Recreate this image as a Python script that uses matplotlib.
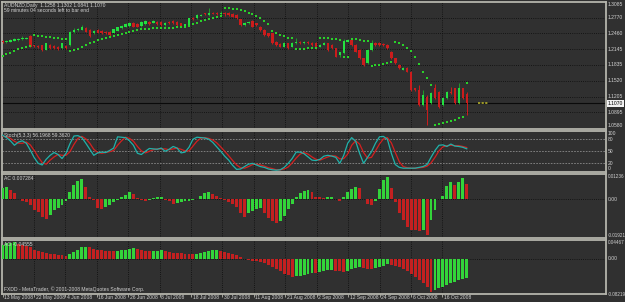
import matplotlib
matplotlib.use("Agg")
import matplotlib.pyplot as plt
import numpy as np

# ---------------- data ----------------
opens = [
 1.2310,1.2290,1.2290,1.2310,1.2325,1.2345,1.2355,1.2405,1.2225,1.2215,
 1.2230,1.2135,1.2230,1.2210,1.2195,1.2165,1.2210,1.2230,1.2480,1.2525,
 1.2530,1.2565,1.2528,1.2462,1.2528,1.2515,1.2495,1.2495,1.2475,1.2515,
 1.2561,1.2595,1.2608,1.2674,1.2648,1.2608,1.2648,1.2694,1.2674,1.2694,
 1.2680,1.2628,1.2694,1.2714,1.2694,1.2661,1.2608,1.2615,1.2770,1.2760,
 1.2810,1.2860,1.2827,1.2873,1.2870,1.2840,1.2873,1.2870,1.2853,1.2827,
 1.2740,1.2628,1.2661,1.2714,1.2661,1.2595,1.2528,1.2462,1.2462,1.2296,
 1.2250,1.2197,1.2263,1.2197,1.2263,1.2296,1.2263,1.2290,1.2263,1.2263,
 1.2197,1.2240,1.2263,1.2230,1.2164,1.2031,1.2065,1.2296,1.2330,1.2230,
 1.2131,1.1965,1.1866,1.2131,1.2263,1.2263,1.2250,1.2230,1.2100,1.1965,
 1.1833,1.1740,1.1767,1.1700,1.1369,1.1336,1.1037,1.1203,1.1070,1.1369,
 1.1302,1.1037,1.1170,1.1302,1.1369,1.1070,1.1369,1.1258]
closes = [
 1.2290,1.2305,1.2320,1.2340,1.2355,1.2375,1.2365,1.2200,1.2210,1.2185,
 1.2135,1.2260,1.2165,1.2165,1.2150,1.2260,1.2165,1.2495,1.2535,1.2545,
 1.2595,1.2495,1.2409,1.2515,1.2475,1.2462,1.2462,1.2429,1.2541,1.2581,
 1.2608,1.2648,1.2674,1.2595,1.2595,1.2694,1.2714,1.2648,1.2714,1.2640,
 1.2628,1.2670,1.2661,1.2661,1.2628,1.2608,1.2640,1.2760,1.2745,1.2827,
 1.2835,1.2845,1.2873,1.2853,1.2840,1.2873,1.2840,1.2827,1.2793,1.2760,
 1.2628,1.2661,1.2694,1.2595,1.2628,1.2528,1.2429,1.2409,1.2263,1.2230,
 1.2197,1.2263,1.2164,1.2263,1.2296,1.2263,1.2296,1.2263,1.2230,1.2164,
 1.2240,1.2270,1.2131,1.2164,1.1998,1.2081,1.2313,1.2330,1.2230,1.2098,
 1.1965,1.1833,1.2131,1.2263,1.2230,1.2230,1.2230,1.2164,1.1965,1.1866,
 1.1767,1.1767,1.1700,1.1336,1.1336,1.1037,1.1236,1.0938,1.1269,1.1170,
 1.1004,1.1170,1.1302,1.1269,1.1070,1.1369,1.1170,1.1070]
highs = [
 1.2330,1.2325,1.2340,1.2360,1.2370,1.2410,1.2385,1.2425,1.2240,1.2230,
 1.2240,1.2270,1.2245,1.2225,1.2210,1.2275,1.2225,1.2510,1.2560,1.2575,
 1.2630,1.2580,1.2540,1.2530,1.2545,1.2530,1.2510,1.2505,1.2555,1.2595,
 1.2625,1.2665,1.2690,1.2690,1.2660,1.2710,1.2730,1.2710,1.2730,1.2710,
 1.2700,1.2690,1.2710,1.2730,1.2705,1.2675,1.2655,1.2775,1.2785,1.2840,
 1.2850,1.2875,1.2960,1.2890,1.2885,1.2900,1.2890,1.2885,1.2865,1.2840,
 1.2750,1.2680,1.2710,1.2730,1.2675,1.2610,1.2540,1.2475,1.2475,1.2310,
 1.2265,1.2280,1.2275,1.2280,1.2370,1.2310,1.2310,1.2305,1.2280,1.2280,
 1.2255,1.2290,1.2275,1.2245,1.2180,1.2100,1.2345,1.2345,1.2340,1.2245,
 1.2145,1.1980,1.2145,1.2320,1.2280,1.2280,1.2265,1.2245,1.2115,1.1980,
 1.1850,1.1785,1.1785,1.1715,1.1385,1.1435,1.1340,1.1230,1.1300,1.1460,
 1.1320,1.1190,1.1320,1.1402,1.1385,1.1468,1.1385,1.1302]
lows = [
 1.2270,1.2275,1.2280,1.2300,1.2315,1.2335,1.2345,1.2185,1.2195,1.2170,
 1.2120,1.2125,1.2150,1.2150,1.2135,1.2150,1.2150,1.2220,1.2465,1.2510,
 1.2520,1.2480,1.2395,1.2450,1.2460,1.2450,1.2445,1.2415,1.2460,1.2500,
 1.2545,1.2580,1.2595,1.2580,1.2580,1.2595,1.2635,1.2635,1.2660,1.2625,
 1.2615,1.2615,1.2645,1.2645,1.2615,1.2595,1.2595,1.2600,1.2730,1.2745,
 1.2800,1.2830,1.2815,1.2840,1.2825,1.2830,1.2810,1.2815,1.2780,1.2745,
 1.2615,1.2615,1.2645,1.2580,1.2615,1.2515,1.2415,1.2395,1.2250,1.2215,
 1.2185,1.2185,1.2150,1.2185,1.2250,1.2250,1.2250,1.2250,1.2215,1.2150,
 1.2185,1.2225,1.2120,1.2150,1.1985,1.1998,1.2050,1.2285,1.2215,1.2085,
 1.1950,1.1820,1.1850,1.2120,1.2215,1.2215,1.2215,1.2150,1.1950,1.1850,
 1.1750,1.1725,1.1685,1.1320,1.1320,1.1020,1.1020,1.0640,1.1050,1.1150,
 1.0985,1.1020,1.1150,1.1250,1.1055,1.1055,1.1150,1.0841]
sar = [
 1.2010,1.2045,1.2080,1.2115,1.2145,1.2170,1.2195,1.2215,1.2425,1.2415,
 1.2405,1.2395,1.2385,1.2375,1.2365,1.2355,1.2345,1.2120,1.2135,1.2160,
 1.2190,1.2225,1.2260,1.2290,1.2320,1.2345,1.2370,1.2390,1.2410,1.2425,
 1.2445,1.2465,1.2490,1.2515,1.2530,1.2540,1.2550,1.2555,1.2560,1.2565,
 1.2568,1.2570,1.2573,1.2576,1.2579,1.2582,1.2590,1.2600,1.2640,1.2670,
 1.2710,1.2730,1.2750,1.2770,1.2790,1.2810,1.2960,1.2958,1.2955,1.2945,
 1.2930,1.2900,1.2870,1.2840,1.2805,1.2770,1.2700,1.2640,1.2500,1.2470,
 1.2430,1.2400,1.2375,1.2360,1.2150,1.2155,1.2160,1.2165,1.2170,1.2175,
 1.2376,1.2370,1.2362,1.2355,1.2345,1.2332,1.1985,1.2000,1.2345,1.2340,
 1.2330,1.2315,1.2310,1.1820,1.1830,1.1840,1.1855,1.1870,1.1885,1.2296,
 1.2270,1.2230,1.2180,1.2110,1.2000,1.1850,1.1700,1.1570,1.1435,1.0640,
 1.0660,1.0675,1.0695,1.0720,1.0745,1.0775,1.0805,1.1468]
stoch_main = [
 90,84,76,65,73,76,70,53,34,20,
 16,30,40,47,42,32,45,69,88,89,
 84,70,55,40,46,48,47,52,58,86,
 85,84,76,65,45,42,50,57,56,55,
 58,50,55,62,58,46,48,60,80,85,
 84,83,80,72,61,50,38,28,15,5,
 6,12,18,20,16,12,10,6,4,3,
 4,10,20,32,48,48,44,36,28,27,
 30,38,40,38,35,20,40,70,84,75,
 45,20,35,49,70,86,87,80,45,17,
 10,8,8,8,8,10,12,17,35,52,
 65,66,62,68,63,62,60,56.2]
stoch_signal = [
 88,86,82,75,70,70,73,66,52,36,
 22,18,28,36,42,40,40,49,67,82,
 87,81,70,55,47,45,47,49,52,65,
 76,85,82,75,62,51,46,50,54,56,
 56,56,54,56,58,55,51,51,63,75,
 83,84,82,78,71,61,50,39,27,16,
 9,8,12,17,18,16,13,9,7,4,
 4,6,11,21,33,43,47,43,36,30,
 28,32,36,39,38,31,32,43,65,76,
 68,47,33,35,51,68,81,84,71,47,
 24,12,9,8,8,9,10,13,21,35,
 51,61,64,65,64,64,62,59.4]
ac = [
 0.0053,0.0058,0.0045,0.0028,-0.0002,-0.0008,-0.0015,-0.0030,-0.0054,-0.0065,
 -0.0087,-0.0098,-0.0078,-0.0054,-0.0042,-0.0030,-0.0010,0.0034,0.0070,0.0091,
 0.0098,0.0061,0.0009,-0.0007,-0.0045,-0.0050,-0.0037,-0.0027,-0.0015,-0.0005,
 0.0008,0.0020,0.0034,0.0025,0.0004,-0.0003,-0.0010,-0.0003,0.0004,0.0008,
 0.0012,-0.0003,-0.0012,-0.0024,-0.0020,-0.0015,-0.0012,-0.0009,-0.0006,-0.0002,
 0.0015,0.0032,0.0037,0.0025,0.0015,0.0003,-0.0005,-0.0015,-0.0025,-0.0040,
 -0.0067,-0.0087,-0.0071,-0.0057,-0.0051,-0.0046,-0.0071,-0.0095,-0.0107,-0.0120,
 -0.0107,-0.0084,-0.0051,-0.0024,0.0012,0.0032,0.0041,0.0044,0.0036,0.0012,
 0.0008,0.0003,0.0008,0.0012,0.0000,-0.0008,0.0008,0.0036,0.0048,0.0058,
 0.0053,0.0002,-0.0025,-0.0030,-0.0008,0.0048,0.0094,0.0110,0.0053,-0.0013,
 -0.0071,-0.0104,-0.0136,-0.0153,-0.0155,-0.0160,-0.0153,-0.0177,-0.0104,-0.0054,
 0.0000,0.0015,0.0065,0.0086,0.0070,0.0086,0.0103,0.0073]
ao = [
 0.0324,0.0366,0.0380,0.0405,0.0349,0.0324,0.0300,0.0270,0.0220,0.0187,
 0.0160,0.0138,0.0120,0.0110,0.0098,0.0085,0.0075,0.0110,0.0160,0.0220,
 0.0270,0.0290,0.0270,0.0245,0.0220,0.0200,0.0190,0.0185,0.0180,0.0187,
 0.0200,0.0220,0.0245,0.0250,0.0235,0.0210,0.0195,0.0185,0.0190,0.0195,
 0.0200,0.0190,0.0165,0.0150,0.0140,0.0128,0.0120,0.0110,0.0105,0.0120,
 0.0138,0.0155,0.0180,0.0200,0.0210,0.0190,0.0165,0.0140,0.0110,0.0080,
 0.0040,0.0000,-0.0024,-0.0040,-0.0057,-0.0080,-0.0106,-0.0140,-0.0190,-0.0244,
 -0.0300,-0.0350,-0.0380,-0.0430,-0.0415,-0.0400,-0.0380,-0.0350,-0.0325,-0.0340,
 -0.0310,-0.0290,-0.0270,-0.0260,-0.0280,-0.0300,-0.0310,-0.0280,-0.0250,-0.0220,
 -0.0200,-0.0210,-0.0230,-0.0250,-0.0215,-0.0190,-0.0160,-0.0130,-0.0140,-0.0165,
 -0.0200,-0.0240,-0.0290,-0.0350,-0.0420,-0.0500,-0.0580,-0.0670,-0.0780,-0.0750,
 -0.0700,-0.0660,-0.0620,-0.0580,-0.0545,-0.0510,-0.0480,-0.0456]

date_labels = ["13 May 2008", "22 May 2008", "4 Jun 2008", "16 Jun 2008", "26 Jun 2008",
               "8 Jul 2008", "18 Jul 2008", "30 Jul 2008", "11 Aug 2008", "21 Aug 2008",
               "2 Sep 2008", "12 Sep 2008", "24 Sep 2008", "6 Oct 2008", "16 Oct 2008"]
price_levels = [1.3085, 1.2770, 1.2460, 1.2145, 1.1835, 1.1520, 1.1205, 1.0895, 1.0580]
price_labels = ["1.3085", "1.2770", "1.2460", "1.2145", "1.1835", "1.1520", "1.1205", "1.0895", "1.0580"]
last_price = 1.1070
stoch_levels = [80, 50, 20]
stoch_labels = [(100, "100"), (80, "80"), (50, "50"), (20, "20"), (0, "0")]
ac_range = (-0.01921, 0.01236)
ao_range = (-0.08219, 0.04467)

header_main = "AUDNZD,Daily  1.1258 1.1302 1.0841 1.1070"
header_timer = "59 minutes 04 seconds left to bar end"
header_stoch = "Stoch(5,3,3) 56.1968 59.3620"
header_ac = "AC 0.007284"
header_ao = "AO -0.04555"
footer = "FXDD - MetaTrader, \u00a9 2001-2008 MetaQuotes Software Corp."

# ---------------- style ----------------
BG = "#303030"
GRID = "#0c0c0c"
SPINE = "#b4b4ac"
TXT = "#d2d2d2"
BULL = "#22e040"
BULL_WICK = "#1f9a2a"
BEAR = "#cc1c1c"
HG = "#33d43a"
HR = "#c42020"
FONT = ["Liberation Sans", "DejaVu Sans"]
FS = 3.6
FS_SMALL = 3.3

W, H = 625, 302
fig = plt.figure(figsize=(W / 100, H / 100), dpi=100)
fig.patch.set_facecolor(BG)

L, R = 2, 606
def make_ax(top, bottom):
    ax = fig.add_axes([L / W, 1 - bottom / H, (R - L) / W, (bottom - top) / H])
    ax.set_facecolor(BG)
    for s in ax.spines.values():
        s.set_color(SPINE)
        s.set_linewidth(1.3)
    ax.tick_params(left=False, right=False, bottom=False, top=False,
                   labelleft=False, labelbottom=False)
    ax.set_xlim(-0.13, 152.1)
    return ax

idx = np.arange(len(closes))
tick_pos = np.arange(len(date_labels)) * 7.92
grid_kw = dict(color=GRID, linestyle=(0, (1, 1.6)), linewidth=0.6, zorder=0.5)

def vgrid(ax):
    for t in tick_pos[1:]:
        ax.axvline(t, **grid_kw)

def rlabel(ax, y, s, va="center", fs=FS):
    ax.text(1.003, y, s, transform=ax.get_yaxis_transform(), ha="left", va=va,
            fontsize=fs, color=TXT, family=FONT, clip_on=False)

# ---- main price panel ----
ax = make_ax(2, 129)
ax.set_ylim(1.0560, 1.3085)
for lv in price_levels[1:-1]:
    ax.axhline(lv, **grid_kw)
vgrid(ax)
o = np.array(opens); c = np.array(closes)
up = c >= o
ax.vlines(idx[up], np.array(lows)[up], np.array(highs)[up], color=BULL_WICK, lw=0.7, zorder=2)
ax.vlines(idx[~up], np.array(lows)[~up], np.array(highs)[~up], color=BEAR, lw=0.7, zorder=2)
ax.bar(idx, np.maximum(np.abs(c - o), 0.0004), bottom=np.minimum(o, c), width=0.62,
       color=np.where(up, BULL, BEAR), zorder=3, linewidth=0)
ax.scatter(idx, sar, s=0.6, marker="s", color="#2ad02a", linewidths=0, zorder=4)
ax.axhline(last_price, color="#0a0a0a", lw=0.8, zorder=1.5)
ax.plot([119.9, 122.4], [last_price, last_price], color="#a8a428", lw=1.3,
        linestyle=(0, (1.2, 0.8)), zorder=4)
for lv, lb in zip(price_levels, price_labels):
    va = "top" if lv == price_levels[0] else ("bottom" if lv == price_levels[-1] else "center")
    rlabel(ax, lv, lb, va=va)
ax.text(1.003, last_price, "1.1070", transform=ax.get_yaxis_transform(), ha="left", va="center",
        fontsize=FS, color="#000000", family=FONT, clip_on=False,
        bbox=dict(boxstyle="square,pad=0.15", facecolor="#f2f2f2", edgecolor="none"))
ax.text(0.004, 0.976, header_main, transform=ax.transAxes, ha="left", va="center",
        fontsize=FS, color=TXT, family=FONT)
ax.text(0.004, 0.935, header_timer, transform=ax.transAxes, ha="left", va="center",
        fontsize=FS, color=TXT, family=FONT)

# ---- stochastic panel ----
ax2 = make_ax(131, 172)
ax2.set_ylim(-1.5, 100.5)
vgrid(ax2)
for lv in stoch_levels:
    ax2.axhline(lv, color="#8a8a8a", linestyle=(0, (2, 1.5)), lw=0.6, zorder=0.8)
ax2.plot(idx, stoch_signal, color="#d42020", lw=0.9, zorder=3)
ax2.plot(idx, stoch_main, color="#20b2aa", lw=0.9, zorder=4)
for v, lb in stoch_labels:
    va = "top" if v == 100 else ("bottom" if v == 0 else "center")
    rlabel(ax2, v, lb, va=va)
ax2.text(0.004, 0.90, header_stoch, transform=ax2.transAxes, ha="left", va="center",
         fontsize=FS, color=TXT, family=FONT)

# ---- AC panel ----
ax3 = make_ax(174, 238)
ax3.set_ylim(*ac_range)
vgrid(ax3)
ax3.axhline(0, **grid_kw)
acv = np.array(ac)
ac_up = np.concatenate([[True], acv[1:] > acv[:-1]])
ax3.bar(idx, acv, width=0.74, color=np.where(ac_up, HG, HR), linewidth=0, zorder=3)
rlabel(ax3, ac_range[1], "0.01236", va="top", fs=FS_SMALL)
rlabel(ax3, 0, "0.00")
rlabel(ax3, ac_range[0], "-0.01921", va="bottom", fs=FS_SMALL)
ax3.text(0.004, 0.933, header_ac, transform=ax3.transAxes, ha="left", va="center",
         fontsize=FS, color=TXT, family=FONT)

# ---- AO panel ----
ax4 = make_ax(240, 293.5)
ax4.set_ylim(*ao_range)
vgrid(ax4)
ax4.axhline(0, **grid_kw)
aov = np.array(ao)
ao_up = np.concatenate([[True], aov[1:] > aov[:-1]])
ax4.bar(idx, aov, width=0.74, color=np.where(ao_up, HG, HR), linewidth=0, zorder=3)
rlabel(ax4, ao_range[1], "0.04467", va="top", fs=FS_SMALL)
rlabel(ax4, 0, "0.00")
ax4.text(1.003, -0.02, "-0.08219", transform=ax4.transAxes, ha="left", va="center",
         fontsize=FS_SMALL, color=TXT, family=FONT, clip_on=False)
ax4.text(0.004, 0.907, header_ao, transform=ax4.transAxes, ha="left", va="center",
         fontsize=FS, color=TXT, family=FONT)
ax4.text(0.004, 0.085, footer, transform=ax4.transAxes, ha="left", va="center",
         fontsize=FS, color=TXT, family=FONT)
ax4.set_xticks(tick_pos)
ax4.tick_params(axis="x", bottom=True, direction="out", length=2.5, width=0.6, color=SPINE)
for t, lb in zip(tick_pos, date_labels):
    ax4.text(t + 0.4, -0.075, lb, transform=ax4.get_xaxis_transform(), ha="left", va="center",
             fontsize=FS, color=TXT, family=FONT, clip_on=False)

fig.savefig("out.png", dpi=100, facecolor=BG)
